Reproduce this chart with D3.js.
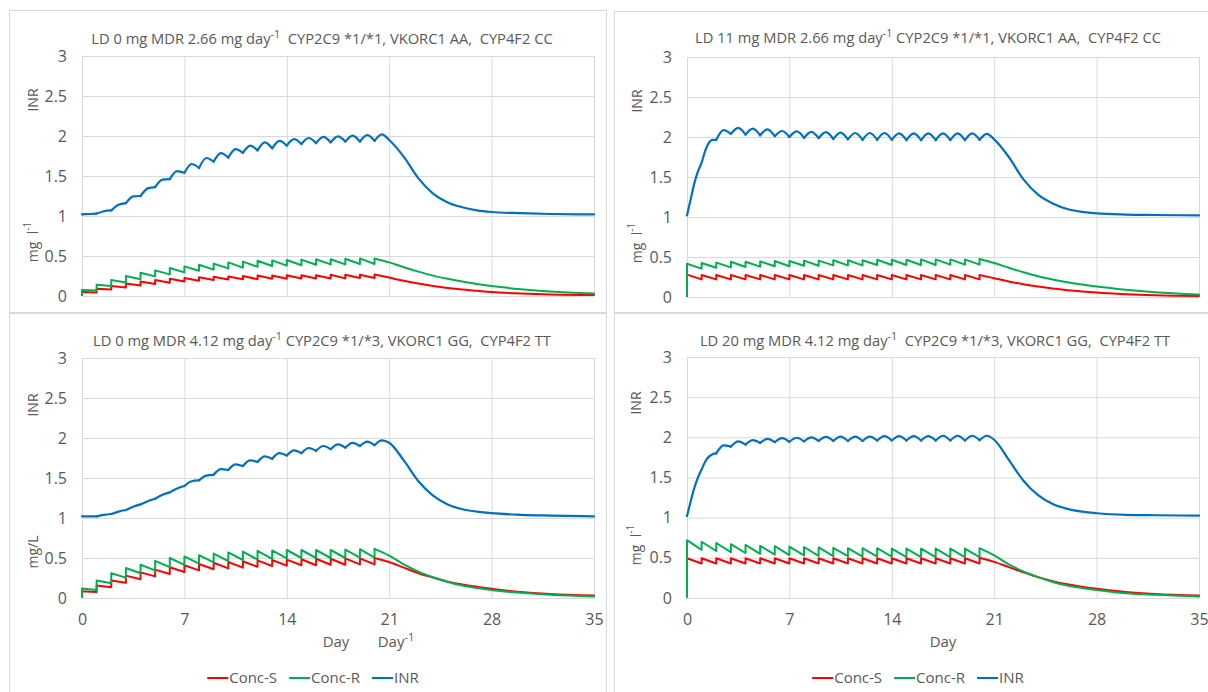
<!DOCTYPE html>
<html>
<head>
<meta charset="utf-8">
<script src="https://cdn.jsdelivr.net/npm/d3@7"></script>
<style>
  body { margin: 0; background: #fff; }
  text { font-family: "Open Sans", "Noto Sans", sans-serif; fill: #595959; white-space: pre; }
</style>
</head>
<body>
<div id="chart"></div>
<script>
// days of the daily doses, and the washout days after the last one
const doseDays = [0,1,2,3,4,5,6,7,8,9,10,11,12,13,14,15,16,17,18,19,20];
const decayDays = [21,22,23,24,25,26,27,28,30,32,35];
const rampDays = [0,0.25,0.5,0.75,1,1.25,1.5,1.75];   // INR rise after a loading dose
const xTicks = [0,7,14,21,28,35];
const yTicks = [0,0.5,1,1.5,2,2.5,3];
const seriesNames = ["Conc-S","Conc-R","INR"];
const seriesColors = ["#ff0000","#00b050","#0070c0"];

// titles: text, superscript, rest
const titleA = ["LD 0 mg MDR 2.66 mg day", "-1", "  CYP2C9 *1/*1, VKORC1 AA,  CYP4F2 CC"];
const titleB = ["LD 11 mg MDR 2.66 mg day", "-1", " CYP2C9 *1/*1, VKORC1 AA,  CYP4F2 CC"];
const titleC = ["LD 0 mg MDR 4.12 mg day", "-1", " CYP2C9 *1/*3, VKORC1 GG,  CYP4F2 TT"];
const titleD = ["LD 20 mg MDR 4.12 mg day", "-1", "  CYP2C9 *1/*3, VKORC1 GG,  CYP4F2 TT"];

// ---- panel A: LD 0, MDR 2.66 ----
// peak = right after dose on that day, trough = right before the next dose
const aSPeak   = [0.05,0.09,0.125,0.155,0.18,0.20,0.215,0.225,0.235,0.24,0.245,0.25,0.255,0.255,0.26,0.26,0.26,0.265,0.265,0.265,0.27];
const aSTrough = [0.045,0.08,0.105,0.13,0.15,0.165,0.18,0.19,0.20,0.205,0.21,0.21,0.215,0.215,0.22,0.22,0.22,0.22,0.225,0.225];
const aSDecay  = [0.23,0.19,0.155,0.125,0.10,0.08,0.065,0.05,0.032,0.02,0.012];
const aRPeak   = [0.075,0.14,0.20,0.25,0.29,0.32,0.35,0.37,0.39,0.405,0.42,0.43,0.44,0.445,0.45,0.455,0.46,0.46,0.465,0.47,0.47];
const aRTrough = [0.068,0.125,0.17,0.21,0.245,0.27,0.295,0.315,0.33,0.345,0.355,0.365,0.375,0.38,0.385,0.39,0.395,0.395,0.40,0.40];
const aRDecay  = [0.42,0.36,0.305,0.255,0.215,0.18,0.15,0.125,0.085,0.055,0.03];
const aInrRamp   = [];
const aInrTrough = [1.02,1.03,1.07,1.16,1.25,1.36,1.46,1.54,1.60,1.68,1.73,1.79,1.82,1.845,1.88,1.90,1.91,1.92,1.93,1.93,1.94];
const aInrPeak   = [1.025,1.06,1.14,1.245,1.345,1.455,1.56,1.65,1.725,1.785,1.835,1.88,1.92,1.94,1.96,1.975,1.99,1.995,2.005,2.01,2.02];
const aInrDecay  = [1.95,1.74,1.47,1.28,1.17,1.11,1.07,1.05,1.035,1.025,1.02];

// ---- panel B: LD 11, MDR 2.66 ----
const bSPeak   = [0.28,0.275,0.275,0.275,0.275,0.275,0.275,0.275,0.275,0.275,0.275,0.275,0.275,0.275,0.275,0.275,0.275,0.275,0.275,0.275,0.275];
const bSTrough = [0.22,0.22,0.22,0.22,0.22,0.22,0.22,0.22,0.22,0.22,0.22,0.22,0.22,0.22,0.22,0.22,0.22,0.22,0.22,0.22];
const bSDecay  = [0.235,0.195,0.16,0.13,0.105,0.085,0.07,0.055,0.035,0.022,0.012];
const bRPeak   = [0.415,0.425,0.43,0.44,0.44,0.445,0.45,0.45,0.455,0.455,0.46,0.46,0.46,0.465,0.465,0.465,0.47,0.47,0.47,0.47,0.475];
const bRTrough = [0.355,0.365,0.37,0.375,0.38,0.385,0.385,0.39,0.39,0.395,0.395,0.395,0.40,0.40,0.40,0.40,0.40,0.405,0.405,0.405];
const bRDecay  = [0.425,0.365,0.31,0.26,0.22,0.185,0.155,0.13,0.09,0.06,0.032];
const bInrRamp   = [1.02,1.22,1.42,1.57,1.68,1.83,1.93,1.965];
const bInrTrough = [1.965,2.04,2.03,2.02,2.01,2.0,1.99,1.985,1.975,1.97,1.965,1.965,1.965,1.96,1.96,1.96,1.96,1.96,1.965];
const bInrPeak   = [2.085,2.115,2.105,2.095,2.075,2.07,2.065,2.06,2.055,2.05,2.05,2.05,2.045,2.045,2.045,2.045,2.045,2.045,2.04];
const bInrDecay  = [1.97,1.75,1.47,1.28,1.17,1.10,1.065,1.045,1.03,1.025,1.02];

// ---- panel C: LD 0, MDR 4.12 ----
const cSPeak   = [0.083,0.155,0.22,0.28,0.32,0.355,0.385,0.41,0.425,0.44,0.45,0.46,0.47,0.475,0.48,0.485,0.49,0.49,0.495,0.495,0.50];
const cSTrough = [0.075,0.135,0.19,0.235,0.27,0.30,0.325,0.345,0.36,0.37,0.38,0.39,0.40,0.405,0.41,0.41,0.415,0.415,0.42,0.42];
const cSDecay  = [0.45,0.38,0.31,0.255,0.205,0.17,0.14,0.115,0.075,0.05,0.03];
const cRPeak   = [0.12,0.22,0.31,0.375,0.415,0.465,0.50,0.52,0.535,0.555,0.57,0.58,0.59,0.595,0.60,0.60,0.60,0.60,0.605,0.61,0.615];
const cRTrough = [0.10,0.185,0.255,0.31,0.345,0.385,0.415,0.43,0.445,0.46,0.475,0.48,0.49,0.495,0.50,0.50,0.50,0.50,0.505,0.505];
const cRDecay  = [0.53,0.42,0.33,0.26,0.20,0.155,0.125,0.10,0.065,0.04,0.02];
const cInrRamp   = [];
const cInrTrough = [1.02,1.02,1.05,1.10,1.17,1.24,1.32,1.40,1.47,1.54,1.60,1.65,1.70,1.74,1.78,1.81,1.84,1.86,1.88,1.90,1.91];
const cInrPeak   = [1.02,1.04,1.08,1.14,1.21,1.29,1.37,1.46,1.53,1.61,1.67,1.72,1.77,1.81,1.845,1.875,1.90,1.92,1.94,1.955,1.97];
const cInrDecay  = [1.94,1.72,1.46,1.28,1.17,1.11,1.08,1.06,1.04,1.03,1.02];

// ---- panel D: LD 20, MDR 4.12 ----
const dSPeak   = [0.495,0.495,0.495,0.495,0.495,0.495,0.495,0.495,0.495,0.495,0.495,0.495,0.495,0.495,0.495,0.495,0.495,0.495,0.495,0.495,0.50];
const dSTrough = [0.43,0.43,0.43,0.43,0.43,0.43,0.43,0.43,0.43,0.43,0.43,0.43,0.43,0.43,0.43,0.43,0.43,0.43,0.43,0.43];
const dSDecay  = [0.45,0.385,0.32,0.26,0.21,0.17,0.14,0.115,0.075,0.05,0.03];
const dRPeak   = [0.72,0.70,0.685,0.67,0.66,0.65,0.645,0.64,0.635,0.63,0.625,0.62,0.62,0.62,0.615,0.615,0.615,0.615,0.615,0.615,0.62];
const dRTrough = [0.60,0.585,0.57,0.56,0.55,0.54,0.535,0.53,0.525,0.52,0.52,0.515,0.515,0.515,0.51,0.51,0.51,0.51,0.51,0.51];
const dRDecay  = [0.53,0.42,0.33,0.26,0.20,0.155,0.125,0.10,0.06,0.04,0.02];
const dInrRamp   = [1.02,1.20,1.37,1.50,1.60,1.70,1.76,1.79];
const dInrTrough = [1.80,1.885,1.91,1.93,1.94,1.945,1.95,1.955,1.955,1.955,1.955,1.96,1.96,1.96,1.96,1.96,1.96,1.96,1.965];
const dInrPeak   = [1.90,1.95,1.965,1.98,1.99,1.995,2.0,2.005,2.01,2.01,2.01,2.015,2.015,2.015,2.015,2.02,2.02,2.02,2.02];
const dInrDecay  = [1.97,1.72,1.46,1.28,1.17,1.11,1.075,1.055,1.035,1.03,1.025];

//basic frame
var width = 1208, height = 692;
var svg = d3.select("#chart").append("svg")
    .attr("width", width)
    .attr("height", height);
svg.append("rect").attr("width", width).attr("height", height).attr("fill", "#fff");

//layout of the four chart boxes
var panels = [
    {box: [9, 10, 597, 302], x0: 82, x1: 594, y0: 56, y1: 296, title: titleA, tx: 322, ty: 44,
     s: [aSPeak, aSTrough, aSDecay], r: [aRPeak, aRTrough, aRDecay], inr: [aInrRamp, aInrTrough, aInrPeak, aInrDecay],
     lx: 34, inrY: 100, mgY: 242, mg: "sup", bottom: false},
    {box: [614, 11, 600, 301], x0: 687, x1: 1199, y0: 57, y1: 297, title: titleB, tx: 928, ty: 43,
     s: [bSPeak, bSTrough, bSDecay], r: [bRPeak, bRTrough, bRDecay], inr: [bInrRamp, bInrTrough, bInrPeak, bInrDecay],
     lx: 638, inrY: 101, mgY: 243, mg: "sup", bottom: false},
    {box: [9, 313, 597, 390], x0: 82, x1: 594, y0: 358, y1: 598, title: titleC, tx: 322, ty: 346,
     s: [cSPeak, cSTrough, cSDecay], r: [cRPeak, cRTrough, cRDecay], inr: [cInrRamp, cInrTrough, cInrPeak, cInrDecay],
     lx: 34, inrY: 405, mgY: 552, mg: "mg/L", bottom: true, dayX: 336, dayInvX: 396, legX: 313},
    {box: [614, 313, 600, 390], x0: 687, x1: 1199, y0: 357, y1: 598, title: titleD, tx: 935, ty: 346,
     s: [dSPeak, dSTrough, dSDecay], r: [dRPeak, dRTrough, dRDecay], inr: [dInrRamp, dInrTrough, dInrPeak, dInrDecay],
     lx: 637, inrY: 403, mgY: 545, mg: "sup", bottom: true, dayX: 943, legX: 918}
];

//sawtooth of a concentration: jump at each dose, straight fall to the next one
function sawPoints(peaks, troughs) {
    var pts = [[0, 0]];
    doseDays.forEach((d, i) => {
        if (i > 0) pts.push([d, troughs[i - 1]]);
        pts.push([d, peaks[i]]);
    });
    return pts;
}

function decayPoints(peaks, decay) {
    return [[20, peaks[20]]].concat(decayDays.map((d, i) => [d, decay[i]]));
}

//INR as one arc per day, so the dose days stay sharp
function inrSegments(ramp, troughs, peaks, decay) {
    var segs = [];
    var first = 21 - troughs.length;
    if (ramp.length) segs.push(ramp.map((v, i) => [rampDays[i], v]).concat([[first, troughs[0]]]));
    troughs.forEach((t, i) => {
        var d = first + i;
        if (i < troughs.length - 1) segs.push([[d, t], [d + 0.5, peaks[i]], [d + 1, troughs[i + 1]]]);
        else segs.push([[d, t], [d + 0.5, peaks[i]]].concat(decayDays.map((dd, j) => [dd, decay[j]])));
    });
    return segs;
}

function superText(g, x, y, parts, size, rotate) {
    var t = g.append("text")
        .attr("x", x).attr("y", y)
        .attr("text-anchor", "middle")
        .style("font-size", size + "px");
    if (rotate) t.attr("transform", "rotate(-90," + x + "," + y + ")");
    t.append("tspan").text(parts[0]);
    if (parts.length > 1) {
        t.append("tspan").attr("dy", -6).style("font-size", (size - 4) + "px").text(parts[1]);
        t.append("tspan").attr("dy", 6).text(parts[2] || "");
    }
    return t;
}

panels.forEach((p) => {
    var g = svg.append("g");

    //box round each chart
    g.append("rect")
        .attr("x", p.box[0] + 0.5).attr("y", p.box[1] + 0.5)
        .attr("width", p.box[2]).attr("height", p.box[3])
        .attr("fill", "none").attr("stroke", "#d9d9d9");

    var x = d3.scaleLinear().domain([0, 35]).range([p.x0, p.x1]);
    var y = d3.scaleLinear().domain([0, 3]).range([p.y1, p.y0]);

    //grid + tick labels
    var yAxis = g.append("g")
        .attr("transform", "translate(" + p.x0 + ",0)")
        .call(d3.axisLeft(y).tickValues(yTicks).tickSize(-(p.x1 - p.x0)).tickPadding(15).tickFormat(d => String(d)));
    var xAxis = g.append("g")
        .attr("transform", "translate(0," + p.y1 + ")")
        .call(d3.axisBottom(x).tickValues(xTicks).tickSize(-(p.y1 - p.y0)).tickPadding(16)
            .tickFormat(d => p.bottom ? String(d) : ""));
    [xAxis, yAxis].forEach((a) => {
        a.select(".domain").remove();
        a.selectAll("line").attr("stroke", "#d9d9d9");
        a.selectAll("text").attr("fill", "#595959").style("font-size", "16px")
            .style("font-family", "'Open Sans', 'Noto Sans', sans-serif");
    });

    //axis titles
    superText(g, p.lx, p.inrY, ["INR"], 14, true).attr("dominant-baseline", "middle");
    if (p.mg == "sup") superText(g, p.lx, p.mgY, ["mg  l", "-1", ""], 14, true).attr("dominant-baseline", "middle");
    else superText(g, p.lx, p.mgY, [p.mg], 14, true).attr("dominant-baseline", "middle");

    //title
    superText(g, p.tx, p.ty, p.title, 14.7, false);

    var lineLin = d3.line().x(d => x(d[0])).y(d => y(d[1]));
    var lineMono = d3.line().x(d => x(d[0])).y(d => y(d[1])).curve(d3.curveMonotoneX);

    //Conc-S then Conc-R
    [p.s, p.r].forEach((ser, k) => {
        g.append("path")
            .attr("d", lineLin(sawPoints(ser[0], ser[1])))
            .attr("fill", "none").attr("stroke", seriesColors[k])
            .attr("stroke-width", 2).attr("stroke-linejoin", "round");
        g.append("path")
            .attr("d", lineMono(decayPoints(ser[0], ser[2])))
            .attr("fill", "none").attr("stroke", seriesColors[k])
            .attr("stroke-width", 2).attr("stroke-linecap", "round");
    });

    //INR
    g.selectAll(".inr")
        .data(inrSegments(p.inr[0], p.inr[1], p.inr[2], p.inr[3]))
        .enter()
        .append("path")
        .attr("class", "inr")
        .attr("d", d => lineMono(d))
        .attr("fill", "none").attr("stroke", seriesColors[2])
        .attr("stroke-width", 2.2).attr("stroke-linecap", "round");

    if (p.bottom) {
        //x axis titles
        g.append("text").attr("x", p.dayX).attr("y", 647).attr("text-anchor", "middle")
            .style("font-size", "15px").text("Day");
        if (p.dayInvX) {
            var t = g.append("text").attr("x", p.dayInvX).attr("y", 647).attr("text-anchor", "middle")
                .style("font-size", "15px");
            t.append("tspan").text("Day");
            t.append("tspan").attr("dy", -6).style("font-size", "11px").text("-1");
        }

        //legend
        var leg = g.append("g");
        var pos = 0;
        seriesNames.forEach((name, i) => {
            leg.append("line")
                .attr("x1", pos).attr("x2", pos + 21).attr("y1", 0).attr("y2", 0)
                .attr("stroke", seriesColors[i]).attr("stroke-width", 2);
            var txt = leg.append("text").attr("x", pos + 22).attr("y", 5)
                .style("font-size", "15px").text(name);
            pos += 22 + txt.node().getComputedTextLength() + 12;
        });
        pos -= 12;
        leg.attr("transform", "translate(" + (p.legX - pos / 2) + ",678)");
    }
});
</script>
</body>
</html>
